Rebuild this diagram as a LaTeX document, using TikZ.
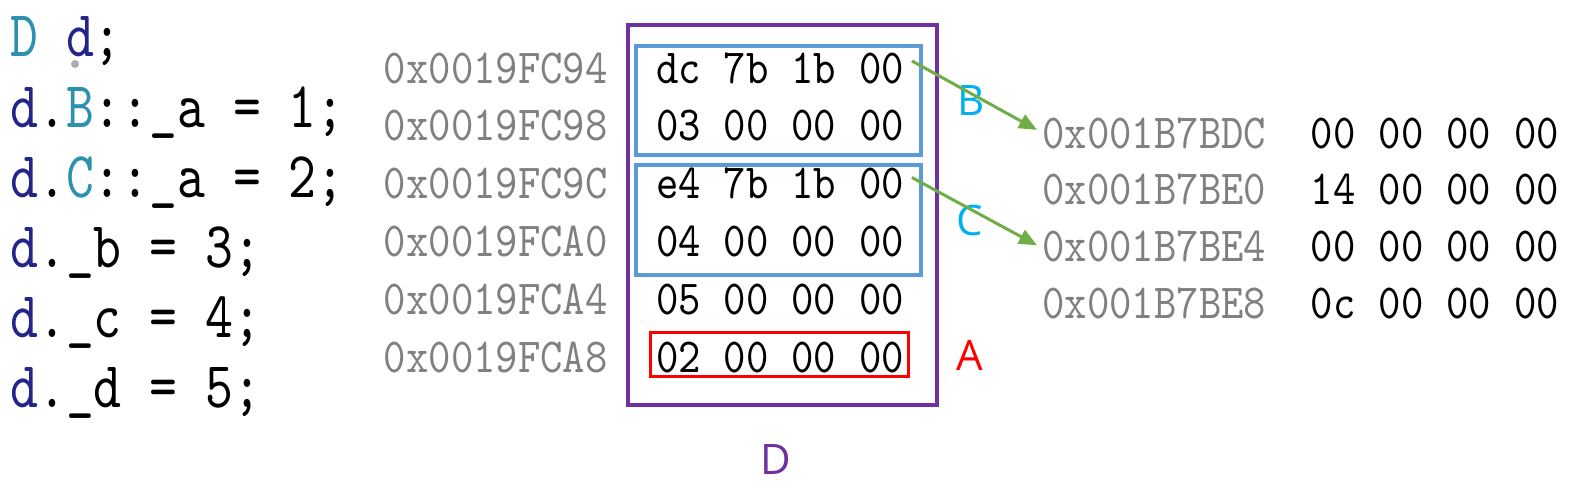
\documentclass[tikz,border=0pt]{standalone}
\usepackage{fontspec}
\usepackage{xcolor}
\usepackage{tikz}
\usetikzlibrary{arrows.meta,calc}
\newfontfamily\codefont[FakeStretch=0.81]{lmmono10-regular.otf}
\newfontfamily\memfont[FakeStretch=0.87]{lmmono10-regular.otf}
\newfontfamily\tagfont{Open Sans}
\definecolor{vsnavy}{HTML}{24248A}
\definecolor{vsteal}{HTML}{2B91AF}
\definecolor{addrgray}{HTML}{808080}
\definecolor{objpurple}{HTML}{7030A0}
\definecolor{subblue}{HTML}{5B9BD5}
\definecolor{ptrgreen}{HTML}{70AD47}
\definecolor{tagcyan}{HTML}{00B0F0}
% four bytes of one memory word, one per column
\newcommand{\hexrow}[5][33.875pt]{\makebox[#1]{#2}\makebox[#1]{#3}\makebox[#1]{#4}\makebox[#1]{#5}}
\tikzstyle{code}=[anchor=base west, inner sep=0pt,
  font=\codefont\fontsize{32.75}{40}\selectfont]
\tikzstyle{addr}=[inner sep=0pt, text=addrgray,
  font=\memfont\fontsize{24.5}{30}\selectfont]
\tikzstyle{bytes}=[anchor=base west, inner sep=0pt,
  font=\memfont\fontsize{24.5}{30}\selectfont]
\tikzstyle{tag}=[inner sep=0pt, font=\tagfont\fontsize{21}{25}\selectfont]
\tikzstyle{ptr}=[draw=ptrgreen, line width=1.5pt,
  -{Triangle[length=9pt,width=7.5pt]}]

\begin{document}
\begin{tikzpicture}[x=0.5pt, y=-0.5pt]
  \useasboundingbox (0,0) rectangle (1572,487);

  % source code
  \node(l1)[code] at (10,56) {{\color{vsteal}D} {\color{vsnavy}d};};
  \fill[gray!65] (75,64) circle (4);
  \path(l1.base west)+(0,71) node(l2)[code]{{\color{vsnavy}d}.{\color{vsteal}B}::\_a = 1;};
  \path(l2.base west)+(0,70) node(l3)[code]{{\color{vsnavy}d}.{\color{vsteal}C}::\_a = 2;};
  \path(l3.base west)+(0,70) node(l4)[code]{{\color{vsnavy}d}.\_b = 3;};
  \path(l4.base west)+(0,70) node(l5)[code]{{\color{vsnavy}d}.\_c = 4;};
  \path(l5.base west)+(0,70) node(l6)[code]{{\color{vsnavy}d}.\_d = 5;};

  % object d on the stack
  \node(r94)[bytes] at (644.1,83) {\hexrow{dc}{7b}{1b}{00}};
  \path(r94.base west)+(0,57.8) node(r98)[bytes]{\hexrow{03}{00}{00}{00}};
  \path(r98.base west)+(0,57.8) node(r9c)[bytes]{\hexrow{e4}{7b}{1b}{00}};
  \path(r9c.base west)+(0,57.8) node(ra0)[bytes]{\hexrow{04}{00}{00}{00}};
  \path(ra0.base west)+(0,57.8) node(ra4)[bytes]{\hexrow{05}{00}{00}{00}};
  \path(ra4.base west)+(0,57.8) node(ra8)[bytes]{\hexrow{02}{00}{00}{00}};

  \path(r94.base west)+(-36,0) node(a94)[addr, anchor=base east]{0x0019FC94};
  \path(r98.base west)+(-36,0) node(a98)[addr, anchor=base east]{0x0019FC98};
  \path(r9c.base west)+(-36,0) node(a9c)[addr, anchor=base east]{0x0019FC9C};
  \path(ra0.base west)+(-36,0) node(aa0)[addr, anchor=base east]{0x0019FCA0};
  \path(ra4.base west)+(-36,0) node(aa4)[addr, anchor=base east]{0x0019FCA4};
  \path(ra8.base west)+(-36,0) node(aa8)[addr, anchor=base east]{0x0019FCA8};

  \draw[objpurple, line width=2pt] (628,24.5) rectangle (937,405);
  \draw[subblue, line width=2pt] (636,46) rectangle (921,155);
  \draw[subblue, line width=2pt] (636,165) rectangle (921,275);
  \draw[red, line width=1.5pt] (650.5,332.5) rectangle (908.5,376.5);

  \node(tagB)[tag, text=tagcyan] at (971,101) {B};
  \node(tagC)[tag, text=tagcyan] at (970,220) {C};
  \node(tagA)[tag, text=red] at (970,355) {A};
  \node(tagD)[tag, text=objpurple] at (776,460) {D};

  % virtual base tables
  \node(hdc)[addr, anchor=base west] at (1042,148) {0x001B7BDC};
  \path(hdc.base west)+(0,56.7) node(he0)[addr, anchor=base west]{0x001B7BE0};
  \path(he0.base west)+(0,56.7) node(he4)[addr, anchor=base west]{0x001B7BE4};
  \path(he4.base west)+(0,56.7) node(he8)[addr, anchor=base west]{0x001B7BE8};

  \path(hdc.base west)+(257,0) node(vdc)[bytes]{\hexrow{00}{00}{00}{00}};
  \path(he0.base west)+(257,0) node(ve0)[bytes]{\hexrow{14}{00}{00}{00}};
  \path(he4.base west)+(257,0) node(ve4)[bytes]{\hexrow{00}{00}{00}{00}};
  \path(he8.base west)+(257,0) node(ve8)[bytes]{\hexrow{0c}{00}{00}{00}};

  \draw[ptr] ([shift={(-4,-7)}]r94.east) -- ([shift={(-5,-3)}]hdc.west);
  \draw[ptr] ([shift={(-4,-6)}]r9c.east) -- ([shift={(-5,-1)}]he4.west);
\end{tikzpicture}
\end{document}
